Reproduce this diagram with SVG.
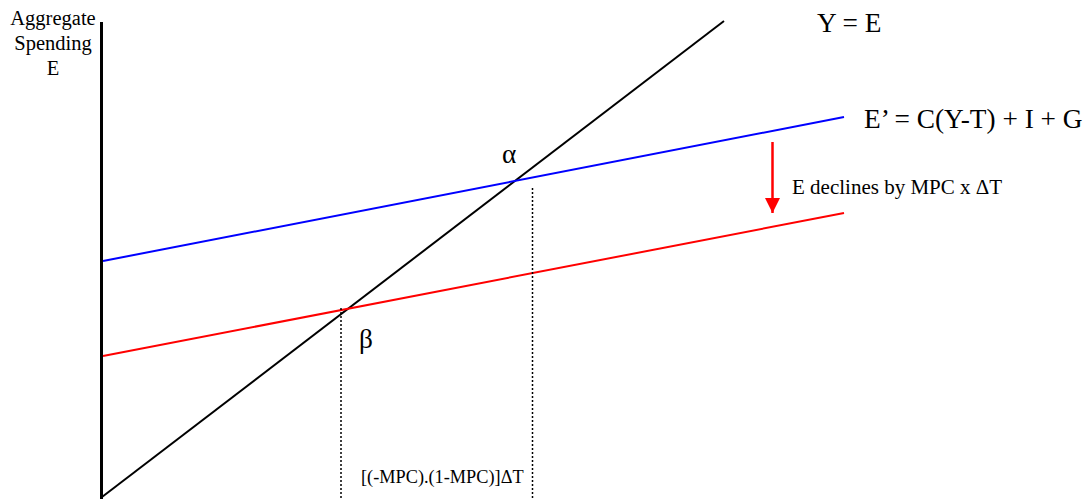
<svg xmlns="http://www.w3.org/2000/svg" width="1086" height="499" viewBox="0 0 1086 499">
<style>
text{font-family:"Liberation Serif","Times New Roman",serif;fill:#000}
.big{font-size:27.3px}
.mid{font-size:20.5px}
.dot{stroke:#000;stroke-width:1.5;stroke-dasharray:2 2;fill:none}
</style>
<defs>
<marker id="ah" markerUnits="userSpaceOnUse" markerWidth="16" markerHeight="16" refX="15" refY="7.5" orient="auto">
<path d="M0,0 L15,7.5 L0,15 Z" fill="#ff0000"/>
</marker>
</defs>
<rect width="1086" height="499" fill="#fff"/>
<g id="axis">
<line x1="101.5" y1="22" x2="101.5" y2="499" stroke="#000" stroke-width="3"/>
<text class="mid" x="53" y="25" text-anchor="middle">Aggregate</text>
<text class="mid" x="53" y="50" text-anchor="middle">Spending</text>
<text class="mid" x="53" y="75" text-anchor="middle">E</text>
</g>
<g id="connectors">
<line id="line-45" x1="102" y1="497" x2="724" y2="21" stroke="#000" stroke-width="2"/>
<line id="line-blue" x1="103" y1="261" x2="844" y2="117" stroke="#0000ff" stroke-width="2"/>
<line id="line-red" x1="103" y1="356" x2="844" y2="213" stroke="#ff0000" stroke-width="2"/>
<line class="dot" x1="341" y1="308" x2="341" y2="499"/>
<line class="dot" x1="532.5" y1="188" x2="532.5" y2="499"/>
<line id="shift-arrow" x1="772.5" y1="142" x2="772.5" y2="213" stroke="#ff0000" stroke-width="2.5" marker-end="url(#ah)"/>
</g>
<g id="labels">
<text class="big" x="817" y="32">Y = E</text>
<text class="big" x="864" y="128">E’ = C(Y-T) + I + G</text>
<text class="big" x="502" y="163">α</text>
<text class="big" x="359" y="348">β</text>
<text x="792" y="194" font-size="21">E declines by MPC x ΔT</text>
<text x="361" y="483" font-size="18.3">[(-MPC).(1-MPC)]ΔT</text>
</g>
</svg>
